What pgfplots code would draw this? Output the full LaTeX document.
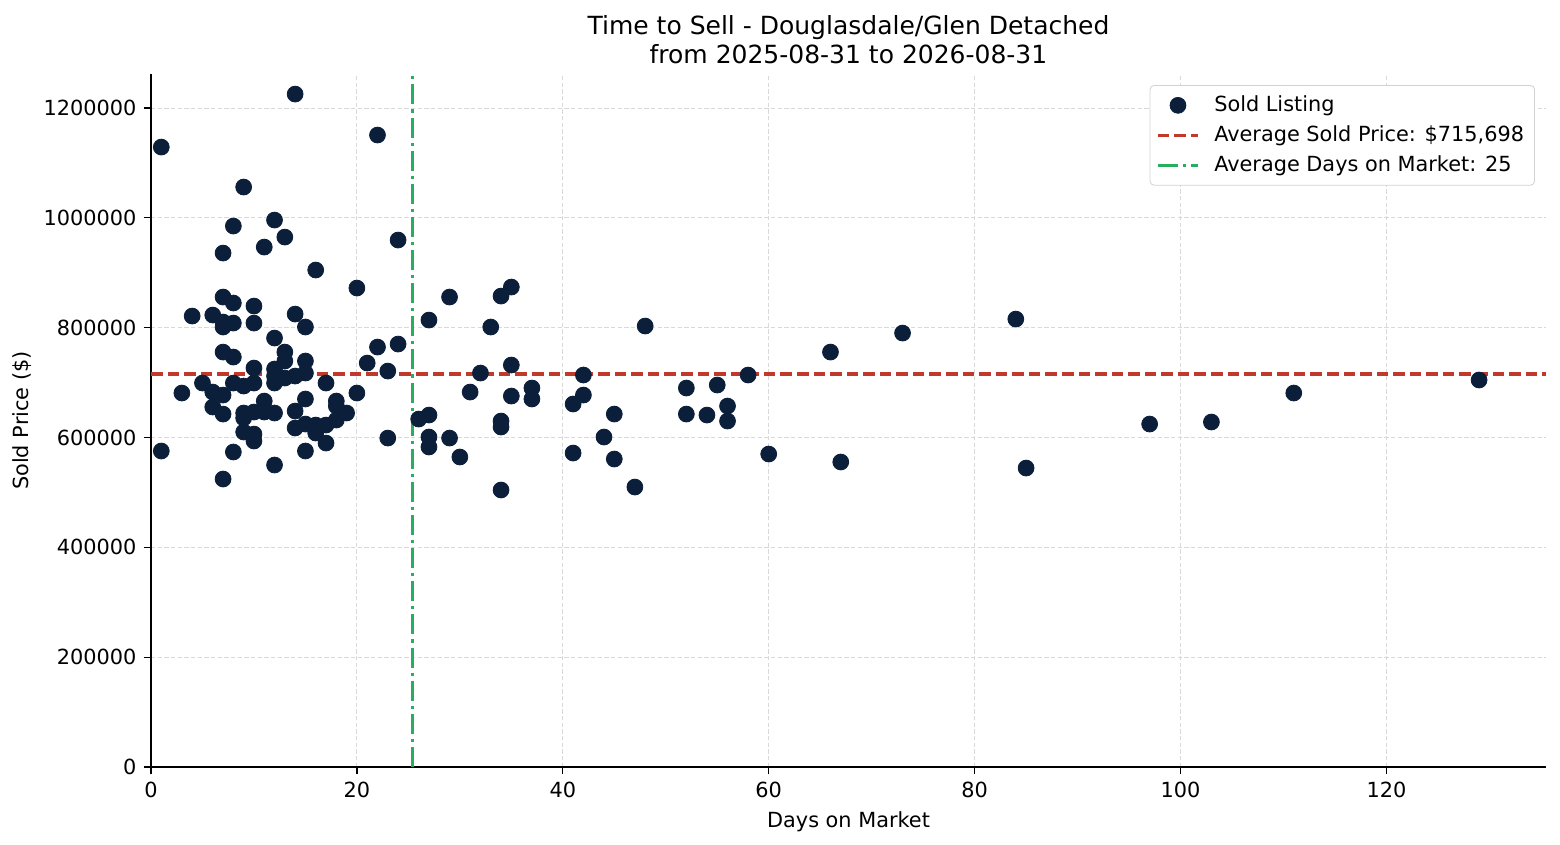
\documentclass[border=0pt]{standalone}
\usepackage{pgfplots}
\pgfplotsset{compat=1.18}
\usepackage{fontspec}
\setmainfont{DejaVu Sans}
\definecolor{navy}{HTML}{0B1F3A}
\definecolor{avgred}{HTML}{C0392B}
\definecolor{avggreen}{HTML}{27AE60}
\pgfplotsset{
  linelegend/.style={legend image code/.code={\draw[##1] (0cm,0cm) -- (0.68cm,0cm);}},
  marklegend/.style={legend image code/.code={\draw[##1] plot coordinates {(0.34cm,0cm)};}},
}
\begin{document}
\begin{tikzpicture}
\useasboundingbox (-72.48pt,-37.44pt) rectangle (676.32pt,368.16pt);
\begin{axis}[
  at={(0,0)}, anchor=south west,
  scale only axis, width=669.6pt, height=332.64pt,
  xmin=0, xmax=135.5, ymin=0, ymax=1262000,
  axis x line*=bottom, axis y line*=left,
  axis line style={-, line width=0.6pt},
  tick align=outside, tick style={black, line width=0.6pt},
  major tick length=3.5pt,
  xtick={0,20,40,60,80,100,120},
  ytick={0,200000,400000,600000,800000,1000000,1200000},
  scaled y ticks=false,
  /pgf/number format/.cd, fixed, 1000 sep={}, assume math mode=true,
  /pgfplots/.cd,
  ticklabel style={font=\fontsize{10}{12}\selectfont},
  grid=major,
  major grid style={gray!30, line width=0.4pt, dash pattern=on 2pt off 1.2pt},
  xlabel={Days on Market}, ylabel={Sold Price (\$)},
  label style={font=\fontsize{10}{12}\selectfont},
  ylabel style={yshift=-1pt},
  title={Time to Sell - Douglasdale/Glen Detached\\from 2025-08-31 to 2026-08-31},
  title style={align=center, font=\fontsize{12}{13.9}\selectfont, yshift=-4.6pt},
  legend style={at={(1,1)}, anchor=north east, xshift=-5.3pt, yshift=-5.3pt,
    draw=gray!35, rounded corners=2pt, font=\fontsize{10}{12}\selectfont,
    row sep=1.3pt, inner sep=3pt,
    /tikz/every odd column/.append style={column sep=5pt}},
  legend cell align=left,
]
\addplot[only marks, mark=*, mark size=3.8pt, color=navy, mark options={fill=navy, draw=navy},
  marklegend] coordinates {
(1,1128900) (1,575400) (3,681000) (4,821200) (5,699200)
(6,823000) (6,682800) (6,655500)
(7,855800) (7,935900) (7,810300) (7,801200) (7,755600) (7,677300) (7,642700) (7,524400)
(8,985100) (8,844900) (8,808400) (8,746500) (8,699200) (8,573600)
(9,1056100) (9,693700) (9,644600) (9,635500) (9,610000)
(10,839400) (10,808400) (10,726500) (10,699200) (10,646400) (10,606300) (10,593600)
(11,946800) (11,666400) (11,646400)
(12,996000) (12,781100) (12,724700) (12,711900) (12,699200) (12,644600) (12,549900)
(13,965000) (13,755600) (13,739300) (13,708300)
(14,1225400) (14,824800) (14,711900) (14,648200) (14,617300)
(15,801200) (15,739300) (15,717400) (15,670100) (15,624500) (15,575400)
(16,905000) (16,622700) (16,608200)
(17,699200) (17,622700) (17,589900)
(18,666400) (18,657300) (18,631800)
(19,644600)
(20,872200) (20,681000)
(21,735600)
(22,1150800) (22,764700)
(23,721000) (23,599000)
(24,959600) (24,770200)
(26,633600) (27,640900) (27,600900) (27,582700) (27,813900)
(29,855800) (29,599000) (30,564500) (31,682800) (32,717400) (33,801200)
(34,857600) (35,874000) (35,732000) (35,675500) (34,630000) (34,619100) (34,504400)
(37,690100) (37,670100) (41,661000) (42,677300) (42,713800) (41,571700)
(44,600900) (45,642700) (45,560800) (47,509800) (48,803000)
(52,690100) (52,642700) (54,640900) (55,695600) (56,657300) (56,630000) (58,713800)
(60,569900) (66,755600) (67,555400) (73,790200) (84,815700) (85,544400)
(97,624500) (103,628200) (111,681000) (129,704700)
};
\addlegendentry{Sold Listing}
\addplot[avgred, line width=1.5pt, dash pattern=on 5.55pt off 2.4pt, linelegend]
  coordinates {(0,715698) (135.5,715698)};
\addlegendentry{Average Sold Price: \$715,698}
\addplot[avggreen, line width=1.5pt, dash pattern=on 9.6pt off 2.4pt on 1.5pt off 2.4pt, linelegend]
  coordinates {(25.36,0) (25.36,1262000)};
\addlegendentry{Average Days on Market: 25}
\end{axis}
\end{tikzpicture}
\end{document}
